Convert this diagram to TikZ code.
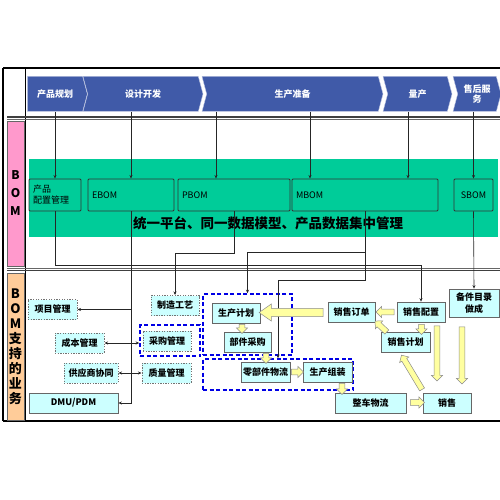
\documentclass[tikz,border=0pt]{standalone}
\usepackage{fontspec}
\setmainfont{Noto Sans CJK SC}
\usetikzlibrary{shapes.symbols, shapes.arrows, arrows.meta, positioning, calc}

\definecolor{phaseblue}{RGB}{64,90,168}
\definecolor{bomgreen}{RGB}{0,204,153}
\definecolor{bompink}{RGB}{255,153,204}
\definecolor{bizorange}{RGB}{255,204,153}
\definecolor{taskcyan}{RGB}{204,255,255}
\definecolor{fatyellow}{RGB}{255,255,160}

\tikzset{
  phase/.style={signal, signal to=east, signal from=west, signal pointer angle=150,
    fill=phaseblue, draw=white!70!phaseblue, text=white, minimum height=35pt,
    inner sep=0pt, align=center, font=\bfseries\fontsize{9}{10}\selectfont},
  bombox/.style={draw=black!80, line width=0.9pt, fill=bomgreen, rounded corners=1pt,
    minimum height=32pt, inner xsep=4pt, align=left, font=\fontsize{9}{11}\selectfont},
  task/.style={draw=black!60, line width=0.7pt, fill=taskcyan, minimum height=20pt,
    inner sep=1pt, align=center, font=\bfseries\fontsize{9}{11}\selectfont},
  taskdot/.style={task, draw=black!55, line width=1pt, dash pattern=on 1.3pt off 1.3pt},
  grp/.style={draw=blue!90!black, line width=1.5pt, dash pattern=on 4pt off 2.5pt},
  fat/.style={single arrow, draw=black!45, line width=0.5pt, fill=fatyellow, inner sep=0pt,
    inner ysep=2.6pt, single arrow head extend=2.6pt, single arrow tip angle=90},
  bigfat/.style={fat, inner ysep=3.8pt, single arrow head extend=4.5pt, single arrow tip angle=70},
  link/.style={draw=black!85, line width=0.6pt, -{Stealth[length=3.5pt, width=3pt]}},
  dlink/.style={link, {Stealth[length=3.5pt, width=3pt]}-{Stealth[length=3.5pt, width=3pt]}},
}

\begin{document}
\begin{tikzpicture}[x=1pt, y=-1pt]
\useasboundingbox (0,0) rectangle (500,500);

% Frame and row separators
\draw[line width=1.4pt] (3,68) -- (500,68);
\draw[line width=1.4pt] (3,421) -- (500,421);
\draw[line width=1.2pt] (3,68) -- (3,421);
\draw[line width=1pt] (25,68) -- (25,421);
\draw[line width=1.5pt, black!75] (7,117) -- (500,117);
\draw[line width=0.5pt, black!60] (7,119.5) -- (500,119.5);
\draw[line width=0.5pt, black!60] (7,268) -- (500,268);
\draw[line width=1.5pt, black!75] (7,270.5) -- (500,270.5);

% Row labels
\node[draw=black!60, fill=bompink, minimum width=17pt, minimum height=145pt, inner sep=0pt,
  align=center, font=\bfseries\fontsize{12}{18}\selectfont] (bomlab) at (15.5,193.5) {B\\O\\M};
\node[draw=black!60, fill=bizorange, minimum width=17pt, minimum height=147pt, inner sep=0pt,
  align=center, font=\bfseries\fontsize{13}{15}\selectfont] (bizlab) at (15.5,346.5) {B\\O\\M\\支\\持\\的\\业\\务};

% Phases
\node[phase, signal from=nowhere, minimum width=60pt] (pplan) at (55,94) {产品规划};
\node[phase, minimum width=120pt] (pdesign) at (143,94) {设计开发};
\node[phase, minimum width=181pt] (pprep) at (292.5,94) {生产准备};
\node[phase, minimum width=69pt] (pmass) at (417.5,94) {量产};
\node[phase, minimum width=48pt] (pservice) at (477,94) {售后服\\务};

% BOM row
\node[fill=bomgreen, minimum width=469pt, minimum height=78pt, inner sep=0pt] (band) at (263.5,198) {};
\node[bombox, text width=44pt] (cfg) at (55,195) {产品\\配置管理};
\node[bombox, text width=78pt] (ebom) at (131,195) {EBOM};
\node[bombox, text width=104pt] (pbom) at (234,195) {PBOM};
\node[bombox, text width=138pt] (mbom) at (365,195) {MBOM};
\node[bombox, minimum width=39pt, inner xsep=1pt] (sbom) at (473.5,195) {SBOM};
\node[font=\bfseries\fontsize{13.5}{15}\selectfont] (slogan) at (268,223) {统一平台、同一数据模型、产品数据集中管理};

% Phase to BOM
\draw[link] (pplan.south -| cfg.north) -- (cfg.north);
\draw[link] (pdesign.south -| ebom.north) -- (ebom.north);
\draw[link] ([xshift=-18pt]pbom.north |- pprep.south) -- ([xshift=-18pt]pbom.north);
\draw[link] ([xshift=-55pt]mbom.north |- pprep.south) -- ([xshift=-55pt]mbom.north);
\draw[link] ([xshift=43pt]mbom.north |- pmass.south) -- ([xshift=43pt]mbom.north);
\draw[link] (pservice.south -| sbom.north) -- (sbom.north);

% Groups
\node[grp, minimum width=89pt, minimum height=61pt] (g1) at (247.5,324.5) {};
\node[grp, minimum width=150pt, minimum height=31pt] (g2) at (278,374.5) {};
\node[grp, minimum width=60pt, minimum height=31pt] (g3) at (170,340.5) {};

% Business tasks
\node[taskdot, minimum width=49pt] (proj) at (52.5,309.5) {项目管理};
\node[taskdot, minimum width=49pt] (cost) at (79.5,343) {成本管理};
\node[taskdot, minimum width=54pt] (supp) at (91,373) {供应商协同};
\node[task, minimum width=89pt] (dmu) at (73.5,403) {DMU/PDM};
\node[taskdot, minimum width=48pt] (craft) at (175,305.5) {制造工艺};
\node[taskdot, minimum width=48pt] (purch) at (167,341) {采购管理};
\node[taskdot, minimum width=49pt] (qual) at (166.5,373) {质量管理};
\node[task, minimum width=48pt] (plan) at (236,313) {生产计划};
\node[task, minimum width=47pt] (parts) at (247.5,342) {部件采购};
\node[task, minimum width=49pt] (logi) at (265.5,372) {零部件物流};
\node[task, minimum width=49pt] (asm) at (327.5,372) {生产组装};
\node[task, minimum width=71pt] (car) at (370.5,403) {整车物流};
\node[task, minimum width=48pt] (sale) at (447,403) {销售};
\node[task, minimum width=47pt] (order) at (351.5,312) {销售订单};
\node[task, minimum width=48pt] (scfg) at (421,312) {销售配置};
\node[task, minimum width=49pt] (splan) at (405.5,342.5) {销售计划};
\node[task, minimum width=50pt, minimum height=28pt, font=\bfseries\fontsize{9}{12}\selectfont] (spare) at (474,303) {备件目录\\做成};

% BOM to business
\draw[link] (cfg.south) -- ++(0,54) -| (scfg.north);
\draw[link] (ebom.south) |- (dmu.east);
\draw[link] (ebom.south |- proj.east) -- (proj.east);
\draw[link] (pbom.south) -- ++(0,42) -| (craft.north);
\draw[link] (mbom.south) -- ++(0,41) -| (g1.north);
\draw[link] (mbom.south) -- ++(0,69) -| (g2.north);
\draw[link] (sbom.south) -- (spare.north);
\draw[dlink] (cost.east) -- (cost.east -| g3.west);
\draw[dlink] (supp.east) -- (qual.west);

% Flow arrows
\node[bigfat, minimum height=64pt, rotate=180] (ord2plan) at (294,312.5) {};
\node[fat, minimum height=18pt, rotate=180] (cfg2ord) at (386.5,312) {};
\node[fat, minimum height=10pt, rotate=270] (cfg2splan) at (421.5,328) {};
\node[fat, minimum height=16pt, rotate=137] (splan2ord) at (382,327.5) {};
\node[fat, minimum height=40pt, rotate=121] (sale2splan) at (412.5,373.5) {};
\node[fat, minimum height=55pt, rotate=270] (cfg2sale) at (437,352) {};
\node[fat, minimum height=57pt, rotate=270] (spare2sale) at (462,354) {};
\node[fat, minimum height=14pt] (car2sale) at (416,402.5) {};
\node[fat, minimum height=11pt, rotate=270] (asm2car) at (342,387.5) {};
\node[fat, minimum height=12pt] (logi2asm) at (296,372) {};
\node[fat, minimum height=10pt, rotate=270] (parts2logi) at (266,357) {};
\node[fat, minimum height=9pt, rotate=270] (plan2parts) at (242,327.5) {};
\end{tikzpicture}
\end{document}
